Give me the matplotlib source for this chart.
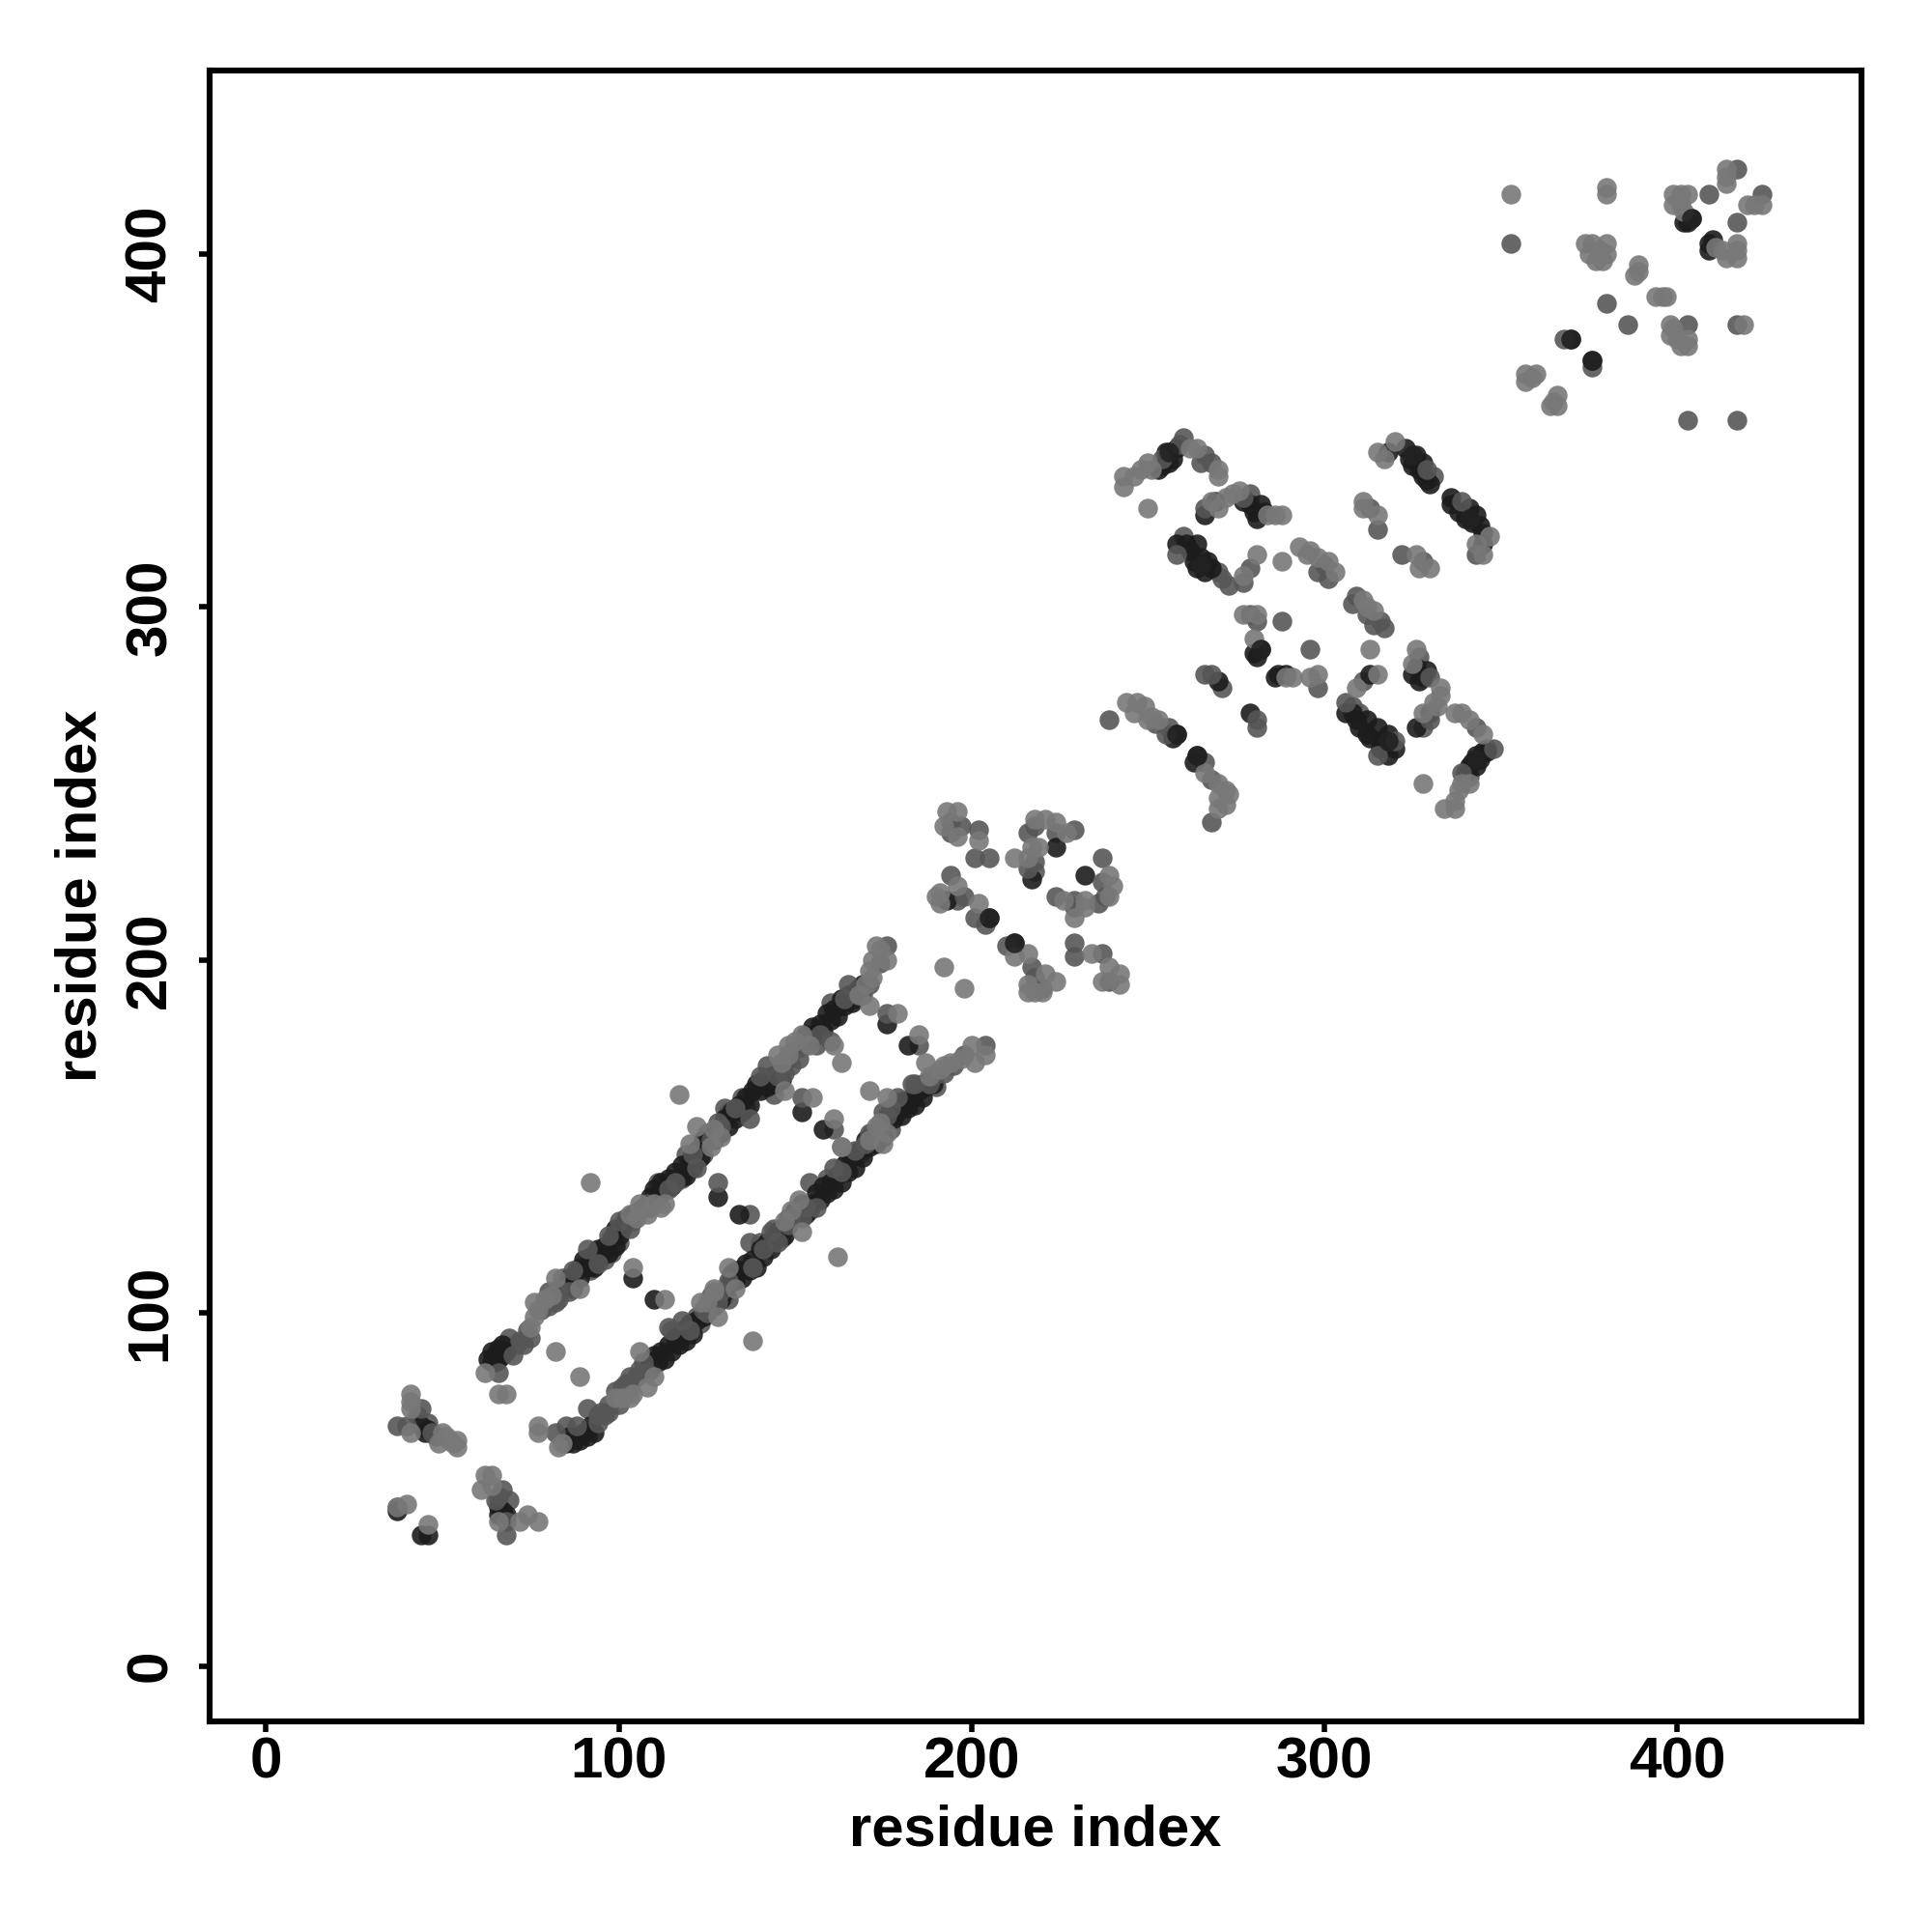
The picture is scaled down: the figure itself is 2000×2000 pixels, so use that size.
import matplotlib
matplotlib.use('Agg')
import matplotlib.pyplot as plt

plt.rcParams['font.family'] = ['Liberation Sans', 'DejaVu Sans']
plt.rcParams['font.weight'] = 'bold'

x_ticks = [0, 100, 200, 300, 400]
y_ticks = [0, 100, 200, 300, 400]
axis_label = 'residue index'

# (x, y) contacts, split by how dark the dot is
dark_pairs = [
    (37, 44), (44, 37), (46, 37), (44, 68), (45, 66), (46, 67), (66, 45), (67, 44), (68, 43), (66, 43),
    (63, 87), (64, 86), (64, 89), (65, 86), (65, 88), (66, 87), (66, 90), (67, 88), (67, 91), (68, 89),
    (85, 108), (86, 110), (87, 107), (88, 112), (89, 110), (90, 115), (91, 113), (92, 116), (93, 113),
    (94, 118), (95, 116), (96, 119), (97, 117), (98, 121), (99, 119), (99, 124), (100, 122),
    (101, 124), (102, 126), (104, 128),
    (109, 133), (110, 135), (111, 133), (112, 137), (113, 135), (114, 138), (115, 136), (116, 140),
    (117, 138), (118, 142), (119, 139), (120, 143), (121, 141), (122, 146), (123, 144), (124, 149),
    (126, 150), (127, 149), (128, 152), (129, 151),
    (130, 155), (131, 153), (132, 157), (133, 155), (134, 159), (135, 157), (136, 161), (137, 159),
    (138, 163), (139, 165), (140, 163), (141, 166), (142, 164), (143, 167), (144, 165), (145, 168), (146, 166),
    (153, 179), (154, 177), (155, 181), (156, 179), (157, 182), (158, 180), (159, 185), (160, 183),
    (161, 186), (162, 184), (163, 189), (164, 187), (165, 190), (166, 188), (167, 191), (168, 192), (169, 193),
    (85, 63), (86, 65), (87, 63), (88, 65), (89, 64), (90, 66), (91, 65), (92, 68), (93, 66),
    (109, 86), (110, 88), (111, 86), (112, 89), (113, 87), (114, 91), (115, 89), (116, 93), (117, 91),
    (118, 95), (119, 92), (120, 97), (121, 94), (122, 98), (124, 99), (127, 102), (129, 104), (130, 106), (131, 108),
    (132, 111), (133, 109), (134, 112), (135, 110), (136, 114), (137, 112), (138, 115), (139, 113),
    (140, 118), (141, 116), (142, 120), (143, 118), (144, 121), (145, 123), (146, 124), (147, 122),
    (148, 127), (150, 129), (152, 131), (153, 128),
    (155, 131), (156, 134), (157, 132), (158, 136), (159, 134), (160, 137), (161, 135), (162, 139),
    (163, 137), (164, 142), (165, 140), (166, 144), (167, 141), (168, 146), (169, 144), (170, 149), (171, 147),
    (172, 151), (173, 148), (174, 153), (175, 150), (176, 155),
    (178, 155), (179, 157), (180, 156), (181, 160), (182, 158), (183, 161), (184, 159), (185, 163),
    (186, 161), (187, 164), (188, 166), (189, 165),
    (104, 110), (110, 104), (128, 133), (134, 128), (152, 157), (158, 152), (176, 182), (182, 176),
    (212, 205), (205, 212), (224, 232), (232, 224), (193, 217), (217, 223),
    (255, 344), (257, 342), (256, 341), (258, 345), (254, 340), (253, 339),
    (266, 326), (269, 330), (277, 330), (280, 327), (282, 329), (279, 329), (281, 325), (283, 327),
    (258, 318), (264, 318), (263, 313), (267, 313), (266, 310), (262, 316), (265, 314), (261, 318),
    (268, 311), (264, 311),
    (258, 264), (257, 263), (264, 258), (263, 256),
    (280, 287), (282, 288), (281, 286), (270, 279), (279, 270), (287, 281), (289, 281), (286, 280),
    (318, 344), (323, 345), (326, 343), (328, 341), (327, 339), (329, 336), (325, 340), (324, 342),
    (330, 335), (328, 337),
    (336, 331), (336, 329), (341, 328), (343, 326), (344, 323), (338, 327), (340, 325), (345, 318),
    (342, 324), (345, 321),
    (325, 281), (329, 282), (327, 279), (330, 270), (326, 266), (326, 283), (328, 280), (313, 281),
    (306, 270), (312, 268), (309, 268), (315, 266), (312, 264), (318, 264), (318, 261), (320, 260),
    (318, 258), (308, 270), (310, 266), (313, 263), (316, 262), (316, 260),
    (343, 258), (341, 255), (344, 257), (342, 256), (340, 253), (345, 259), (343, 255), (346, 259),
    (404, 410), (402, 409), (403, 409), (410, 404), (409, 401), (409, 403), (370, 376), (376, 370),
]
mid_pairs = [
    (37, 68), (37, 45), (44, 73), (46, 69), (40, 68), (43, 71), (47, 66), (48, 65),
    (66, 48), (69, 47), (68, 41), (68, 37), (65, 47), (67, 50),
    (66, 83), (69, 93), (70, 88), (71, 91), (72, 92), (73, 91), (82, 103), (80, 106), (83, 107),
    (84, 110), (87, 112), (89, 113), (91, 118), (96, 115), (97, 122), (98, 117), (100, 126), (102, 127),
    (74, 95), (75, 93), (78, 101), (80, 102), (83, 104), (84, 107), (86, 106), (92, 112), (94, 114),
    (100, 120), (103, 124), (104, 126), (106, 129), (107, 130), (109, 130), (112, 134), (116, 137),
    (118, 138), (122, 141), (124, 145), (126, 149), (127, 150), (129, 153), (131, 157), (133, 158),
    (136, 158), (140, 167), (143, 165), (145, 167), (147, 171), (149, 174), (151, 172), (153, 176),
    (155, 178), (157, 179), (162, 187), (164, 189), (167, 189), (169, 190), (171, 193),
    (108, 131), (111, 137), (114, 135), (119, 145), (121, 145), (125, 151), (128, 154), (130, 158),
    (137, 155), (135, 161), (142, 170), (144, 162), (147, 168), (149, 170), (151, 175), (156, 176),
    (160, 177), (160, 188), (165, 193), (169, 192), (176, 204), (174, 199),
    (82, 66), (85, 68), (88, 68), (91, 73), (94, 69), (96, 71), (97, 74), (102, 80), (103, 82),
    (105, 82), (107, 86), (114, 96), (118, 98), (122, 99), (124, 101), (126, 105), (129, 106), (131, 104),
    (94, 71), (95, 72), (97, 72), (99, 78), (100, 74), (101, 79), (103, 79), (106, 84), (108, 83), (109, 84),
    (115, 95), (117, 93), (120, 95), (123, 97), (125, 100), (127, 104), (128, 103), (130, 105), (131, 109),
    (133, 112), (138, 113), (140, 120), (141, 118), (144, 124), (145, 120), (147, 124), (149, 127),
    (151, 130), (152, 127), (154, 129), (156, 130), (159, 138), (163, 140), (165, 144), (167, 146),
    (169, 146), (171, 151), (173, 149), (174, 152), (175, 157), (177, 158), (180, 160), (183, 165),
    (186, 165), (188, 165), (190, 168), (192, 168), (195, 170), (198, 173),
    (137, 120), (143, 123), (146, 121), (148, 125), (150, 128), (153, 130), (154, 137), (161, 141),
    (168, 145), (170, 148), (172, 150), (176, 156), (177, 152), (184, 165), (190, 164), (189, 167),
    (204, 176), (128, 137), (137, 128), (152, 161), (161, 152), (176, 185), (185, 176), (179, 161),
    (194, 239), (194, 236), (197, 238), (202, 237), (201, 229), (205, 229), (194, 224), (198, 218),
    (196, 217), (201, 212), (204, 210), (210, 204), (217, 198), (220, 192), (218, 195), (229, 205), (229, 201),
    (237, 202), (239, 194), (218, 228), (218, 225), (216, 226), (218, 238), (216, 236), (224, 236),
    (229, 237), (237, 229), (237, 222), (238, 218), (224, 218), (229, 217), (229, 215), (236, 216),
    (254, 342), (260, 348), (259, 346), (266, 343), (265, 341), (268, 341),
    (266, 328), (279, 332), (277, 331), (260, 320), (258, 315), (270, 310), (273, 306), (271, 308),
    (279, 311), (277, 307), (288, 296), (296, 288), (301, 308), (298, 310), (300, 312),
    (309, 303), (308, 301), (312, 298), (316, 296), (317, 294), (314, 295), (279, 298), (281, 296),
    (266, 281), (268, 281), (271, 277), (281, 268), (281, 266), (298, 277),
    (239, 268), (252, 267), (256, 266), (255, 264), (266, 256), (268, 251), (268, 239),
    (329, 339), (331, 337), (339, 330), (340, 326), (343, 315), (313, 328), (315, 322), (322, 315),
    (328, 313), (327, 286), (330, 280), (328, 266), (330, 268), (311, 279), (306, 273), (308, 272),
    (315, 258), (310, 270), (320, 262), (343, 266), (348, 260), (346, 260), (339, 253), (341, 252),
    (353, 403), (409, 417), (417, 424), (424, 417), (417, 409), (403, 380), (417, 380),
    (376, 368), (403, 353), (417, 353), (380, 386), (386, 380), (368, 376),
]
light_pairs = [
    (37, 45), (40, 46), (46, 40), (41, 77), (41, 75), (41, 73), (41, 66), (50, 66), (49, 63), (52, 64),
    (53, 63), (54, 62), (54, 64), (51, 65), (62, 54), (64, 54), (61, 50), (64, 51), (66, 41), (72, 41),
    (74, 43), (77, 41), (62, 83), (66, 77), (68, 77), (75, 96), (76, 99), (76, 103), (77, 101), (79, 104),
    (81, 105), (82, 110), (89, 107), (103, 128), (105, 127), (106, 131), (108, 128), (110, 131), (112, 130),
    (113, 131), (122, 153), (120, 148), (126, 147), (129, 150), (127, 152), (147, 163), (146, 171),
    (145, 173), (148, 176), (148, 173), (150, 177), (152, 179), (154, 176), (161, 176), (171, 187),
    (168, 190), (170, 193), (171, 197), (172, 195), (172, 200), (173, 204), (176, 200), (174, 203),
    (77, 68), (77, 66), (83, 62), (84, 63), (99, 76), (101, 76), (104, 77), (106, 89), (110, 82), (108, 79),
    (103, 76), (123, 103), (128, 99), (127, 106), (125, 103), (131, 113), (133, 107), (127, 107),
    (149, 129), (152, 123), (147, 126), (151, 132), (163, 147), (171, 149), (174, 154), (175, 148),
    (173, 153), (176, 151), (187, 171), (188, 167), (192, 170), (194, 171), (197, 172), (200, 176),
    (201, 171), (204, 173), (191, 169),
    (104, 113), (113, 104), (82, 89), (89, 82), (92, 137), (117, 162), (138, 92), (162, 116), (163, 171),
    (155, 161), (161, 155), (163, 147), (171, 163), (176, 161), (179, 185), (185, 179), (192, 198), (198, 192),
    (193, 242), (196, 242), (192, 238), (196, 235), (202, 234), (196, 221), (191, 219), (191, 216), (202, 216),
    (190, 218), (216, 202), (212, 201), (216, 191), (218, 191), (221, 196), (224, 194), (216, 193),
    (220, 191), (234, 202), (239, 198), (242, 196), (242, 193), (237, 194), (212, 229), (217, 232), (219, 232),
    (216, 229), (221, 240), (224, 239), (218, 240), (227, 236), (239, 224), (240, 221), (239, 218),
    (226, 217), (232, 217), (229, 212), (232, 215),
    (243, 334), (243, 337), (246, 337), (250, 341), (251, 339), (248, 339), (262, 345), (264, 345), (270, 339),
    (270, 337), (250, 328), (268, 330), (270, 328), (272, 331), (276, 333), (274, 332), (284, 326),
    (288, 326), (286, 326), (277, 309), (281, 315), (288, 313), (293, 317), (296, 316), (298, 314),
    (301, 313), (303, 310), (295, 315), (313, 288), (311, 302), (314, 299), (312, 300), (277, 298),
    (281, 298), (280, 291), (289, 280), (291, 280), (296, 280), (298, 281), (244, 273), (247, 273),
    (246, 270), (250, 268), (251, 269), (249, 272), (253, 268), (266, 253), (270, 250), (272, 248), (272, 244),
    (270, 243), (273, 247), (270, 246), (315, 344), (320, 347), (317, 342), (347, 320), (343, 318), (345, 315),
    (311, 330), (311, 328), (315, 326), (326, 315), (330, 311), (327, 311), (326, 288), (325, 284),
    (333, 277), (333, 275), (332, 272), (328, 270), (331, 273), (315, 281), (309, 277), (328, 250),
    (337, 270), (339, 270), (341, 268), (345, 264), (339, 250), (341, 250), (337, 245), (337, 243),
    (334, 243), (338, 248),
    (353, 417), (380, 419), (380, 417), (399, 417), (401, 417), (403, 417), (399, 414), (401, 414), (402, 412),
    (414, 424), (414, 420), (414, 422), (420, 414), (422, 414), (424, 414), (411, 402), (414, 399), (417, 403),
    (417, 399), (417, 401), (413, 401), (374, 403), (376, 403), (380, 403), (375, 400), (377, 398),
    (380, 400), (378, 401), (379, 398), (389, 397), (388, 394), (389, 395), (394, 388), (396, 388), (397, 388),
    (398, 380), (398, 377), (400, 376), (403, 374), (401, 374), (403, 376), (399, 379), (419, 380),
    (357, 366), (360, 366), (357, 364), (359, 365), (364, 357), (366, 360), (366, 357), (365, 358),
]
# dark dots that sit on top of their lighter neighbours
top_pairs = [
    (258, 264), (282, 288), (205, 212), (212, 205), (264, 258), (404, 410), (376, 370), (370, 376),
    (256, 344), (325, 343), (341, 325), (343, 257), (318, 262), (265, 312),
]


def draw_pairs(ax, pairs, shade):
    """一组点用同一灰度"""
    xs = [p[0] for p in pairs]
    ys = [p[1] for p in pairs]
    ax.scatter(xs, ys, s=54, c=shade, alpha=0.9, linewidths=0)


if __name__ == '__main__':
    fig = plt.figure(figsize=(10, 10), dpi=200)
    ax = fig.add_axes([217 / 2000, 1 - 1782 / 2000, 1710 / 2000, 1709 / 2000])

    # 中灰分两层画，让深色带子里夹一点灰，浅灰压在最上
    draw_pairs(ax, mid_pairs[1::2], '#565656')
    draw_pairs(ax, dark_pairs, '#1c1c1c')
    draw_pairs(ax, mid_pairs[::2], '#565656')
    draw_pairs(ax, light_pairs, '#787878')
    draw_pairs(ax, top_pairs, '#222222')

    ax.set_xlim(-16, 452.3)
    ax.set_ylim(-15.7, 452)
    ax.set_xticks(x_ticks)
    ax.set_yticks(y_ticks)
    ax.tick_params(width=2, length=4, labelsize=21.7)
    ax.tick_params(axis='x', pad=1.5)
    ax.tick_params(axis='y', pad=8)
    for label in ax.get_yticklabels():
        label.set_rotation(90)
        label.set_va('center')
    for side in ax.spines.values():
        side.set_linewidth(2.2)

    ax.set_xlabel(axis_label, fontsize=21.5, fontweight='bold', labelpad=5.5)
    ax.set_ylabel(axis_label, fontsize=21.5, fontweight='bold', labelpad=6)

    fig.savefig('out.png', dpi=200)
